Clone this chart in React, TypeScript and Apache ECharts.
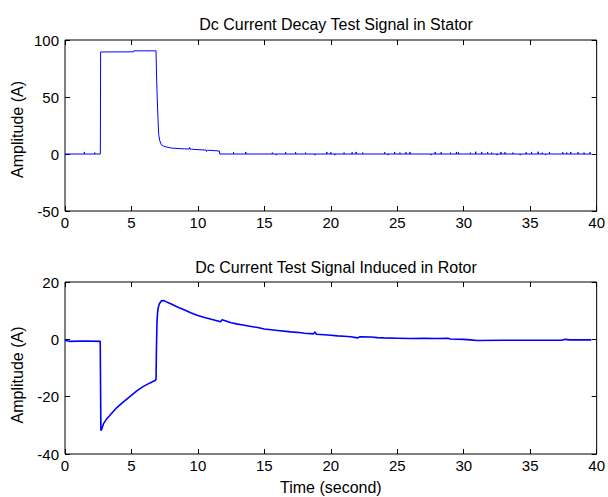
import React, { useEffect, useRef } from "react";
import * as echarts from "echarts";

// Stator signal (time in s, amplitude in A)
const statorTime = [0, 2.66, 2.68, 5.15, 5.17, 6.85, 6.88, 6.92, 6.96, 7.0, 7.05, 7.12, 7.25, 7.4, 7.6, 8.0, 8.5, 9.0, 9.35, 9.38, 9.42, 9.5, 10.0, 10.6, 10.65, 10.7, 11.2, 11.62, 11.64, 39.6];
const statorAmp = [0, 0, 89.5, 89.6, 90.5, 90.5, 72, 56, 42, 30, 17, 12, 8, 7, 6.2, 5.2, 4.8, 4.5, 4.4, 5.8, 4.2, 4.2, 3.8, 3.5, 2.2, 3.3, 3.0, 2.6, 0, 0];

// Small noise spikes on the stator baseline
const spikeTime = [1.46, 2.24, 12.68, 13.6, 15.6, 15.9, 16.6, 17.35, 18.1, 18.8, 19.7, 20.0, 20.3, 21.0, 21.6, 21.9, 22.4, 24.05, 24.3, 24.8, 25.2, 25.65, 25.95, 27.55, 27.85, 28.3, 29.0, 29.45, 29.6, 30.5, 30.9, 31.35, 31.8, 32.1, 32.5, 32.8, 33.1, 33.7, 34.25, 34.7, 35.1, 35.6, 35.9, 36.15, 36.45, 37.45, 37.75, 38.05, 38.6, 39.05, 39.5];
const spikeAmp = [1.8, 1.2, 1.5, 1.8, 1.2, -1, 1.5, 1.5, 1.2, -1, 1.8, 1.5, -1, 1.2, 1.5, 1.8, 1.2, 1.5, -1, 1.8, 1.2, 1.5, 1.8, -1, 1.8, 1.5, 1.2, 1.8, 1.5, 1.2, 2, 1.8, 1.5, 1.2, -1, 1.8, 1.5, 1.2, -1, 1.5, 1.8, 2, 1.2, -1, 1.8, 1.5, 1.2, 1.8, 1.5, 1.2, 1.5];

// Rotor signal
const rotorTime = [0, 0.3, 1.5, 2.65, 2.7, 2.75, 2.9, 3.1, 3.4, 3.9, 4.4, 4.9, 5.4, 5.9, 6.4, 6.8, 6.85, 6.88, 6.92, 6.96, 7.0, 7.1, 7.25, 7.45, 7.7, 8.0, 8.5, 9.0, 9.5, 10.0, 10.5, 11.0, 11.5, 11.7, 11.8, 12.0, 12.5, 13.0, 13.5, 14.0, 14.5, 15.0, 16.0, 17.0, 17.8, 18.0, 18.7, 18.8, 18.9, 19.5, 20.0, 20.5, 21.0, 21.5, 22.0, 22.2, 23.0, 23.5, 24.0, 25.0, 26.0, 27.0, 28.0, 28.8, 29.0, 30.0, 30.5, 31.0, 33.0, 35.0, 37.0, 37.4, 37.6, 38.0, 39.6];
const rotorAmp = [-0.3, -0.7, -0.6, -0.7, -31.8, -31.5, -29.4, -28.0, -26.4, -23.8, -21.8, -19.9, -18.0, -16.4, -15.2, -14.3, -13.8, -3, 6, 9, 10.8, 12.4, 13.4, 13.5, 12.9, 12.3, 11.2, 10.2, 9.2, 8.3, 7.6, 7.0, 6.4, 6.1, 6.8, 6.6, 5.8, 5.3, 4.9, 4.5, 4.1, 3.6, 3.1, 2.6, 2.3, 2.1, 1.9, 2.6, 1.8, 1.6, 1.4, 1.2, 1.1, 0.9, 0.5, 0.9, 0.8, 0.6, 0.5, 0.4, 0.3, 0.4, 0.3, 0.4, 0.1, 0.0, -0.2, -0.4, -0.3, -0.3, -0.3, -0.3, 0.0, -0.2, -0.2];

const titles = ["Dc Current Decay Test Signal in Stator", "Dc Current Test Signal Induced in Rotor"];
const yName = "Amplitude (A)";
const xName = "Time (second)";

const FONT = "'Liberation Sans', Arial, Helvetica, sans-serif";

export default function App() {
  const ref = useRef<HTMLDivElement>(null);

  useEffect(() => {
    if (!ref.current) return;
    const chart = echarts.init(ref.current, undefined, { renderer: "svg" });

    const statorPts: [number, number][] = statorTime.map((t, i) => [t, statorAmp[i]]);
    spikeTime.forEach((t, i) => {
      statorPts.push([t - 0.001, 0], [t, spikeAmp[i]], [t + 0.001, 0]);
    });
    statorPts.sort((a, b) => a[0] - b[0]);
    const rotorPts = rotorTime.map((t, i) => [t, rotorAmp[i]]);

    const grids = [
      { left: 65, top: 40, width: 533, height: 171 },
      { left: 65, top: 282, width: 533, height: 172 },
    ];
    const yRanges = [
      { min: -50, max: 100, interval: 50 },
      { min: -40, max: 20, interval: 20 },
    ];

    const tickStyle = { show: true, inside: true, length: 5, lineStyle: { color: "#000", width: 1 } };
    const labelStyle = { color: "#000", fontSize: 15, fontFamily: FONT };
    const noLine = { show: false, onZero: false };

    const xAxis: any[] = [];
    const yAxis: any[] = [];
    grids.forEach((_, gi) => {
      xAxis.push({
        type: "value", gridIndex: gi, min: 0, max: 40, interval: 5, position: "bottom",
        axisLine: noLine, axisTick: tickStyle, splitLine: { show: false },
        axisLabel: { ...labelStyle, margin: 4 },
        ...(gi === 1 ? {
          name: xName, nameLocation: "middle", nameGap: 25,
          nameTextStyle: { color: "#000", fontSize: 16, fontFamily: FONT },
        } : {}),
      });
      xAxis.push({
        type: "value", gridIndex: gi, min: 0, max: 40, interval: 5, position: "top",
        axisLine: noLine, axisTick: tickStyle, splitLine: { show: false },
        axisLabel: { show: false },
      });
      yAxis.push({
        type: "value", gridIndex: gi, ...yRanges[gi], position: "left",
        axisLine: noLine, axisTick: tickStyle, splitLine: { show: false },
        axisLabel: { ...labelStyle, margin: 6 },
      });
      yAxis.push({
        type: "value", gridIndex: gi, ...yRanges[gi], position: "right",
        axisLine: noLine, axisTick: tickStyle, splitLine: { show: false },
        axisLabel: { show: false },
      });
    });

    chart.setOption({
      animation: false,
      backgroundColor: "#fff",
      title: [
        { text: titles[0], left: 331, top: 11, textAlign: "center",
          textStyle: { color: "#000", fontSize: 16, fontWeight: "normal", fontFamily: FONT } },
        { text: titles[1], left: 331, top: 254, textAlign: "center",
          textStyle: { color: "#000", fontSize: 16, fontWeight: "normal", fontFamily: FONT } },
      ],
      grid: grids.map((g) => ({ ...g, show: true, borderColor: "#000", borderWidth: 1, backgroundColor: "transparent" })),
      xAxis,
      yAxis,
      graphic: [
        { type: "text", x: 17, y: 129.5, rotation: Math.PI / 2,
          style: { text: yName, fill: "#000", fontSize: 16, fontFamily: FONT, textAlign: "center", textVerticalAlign: "middle" } },
        { type: "text", x: 17, y: 375, rotation: Math.PI / 2,
          style: { text: yName, fill: "#000", fontSize: 16, fontFamily: FONT, textAlign: "center", textVerticalAlign: "middle" } },
      ],
      series: [
        { type: "line", xAxisIndex: 0, yAxisIndex: 0, data: statorPts, showSymbol: false,
          lineStyle: { color: "#0000ff", width: 1 }, z: 3 },
        { type: "line", xAxisIndex: 2, yAxisIndex: 2, data: rotorPts, showSymbol: false,
          lineStyle: { color: "#0000ff", width: 1.6 }, z: 3 },
      ],
    });

    return () => chart.dispose();
  }, []);

  return (
    <div
      ref={ref}
      style={{ position: "absolute", left: 0, top: 0, width: 608, height: 497 }}
    />
  );
}
